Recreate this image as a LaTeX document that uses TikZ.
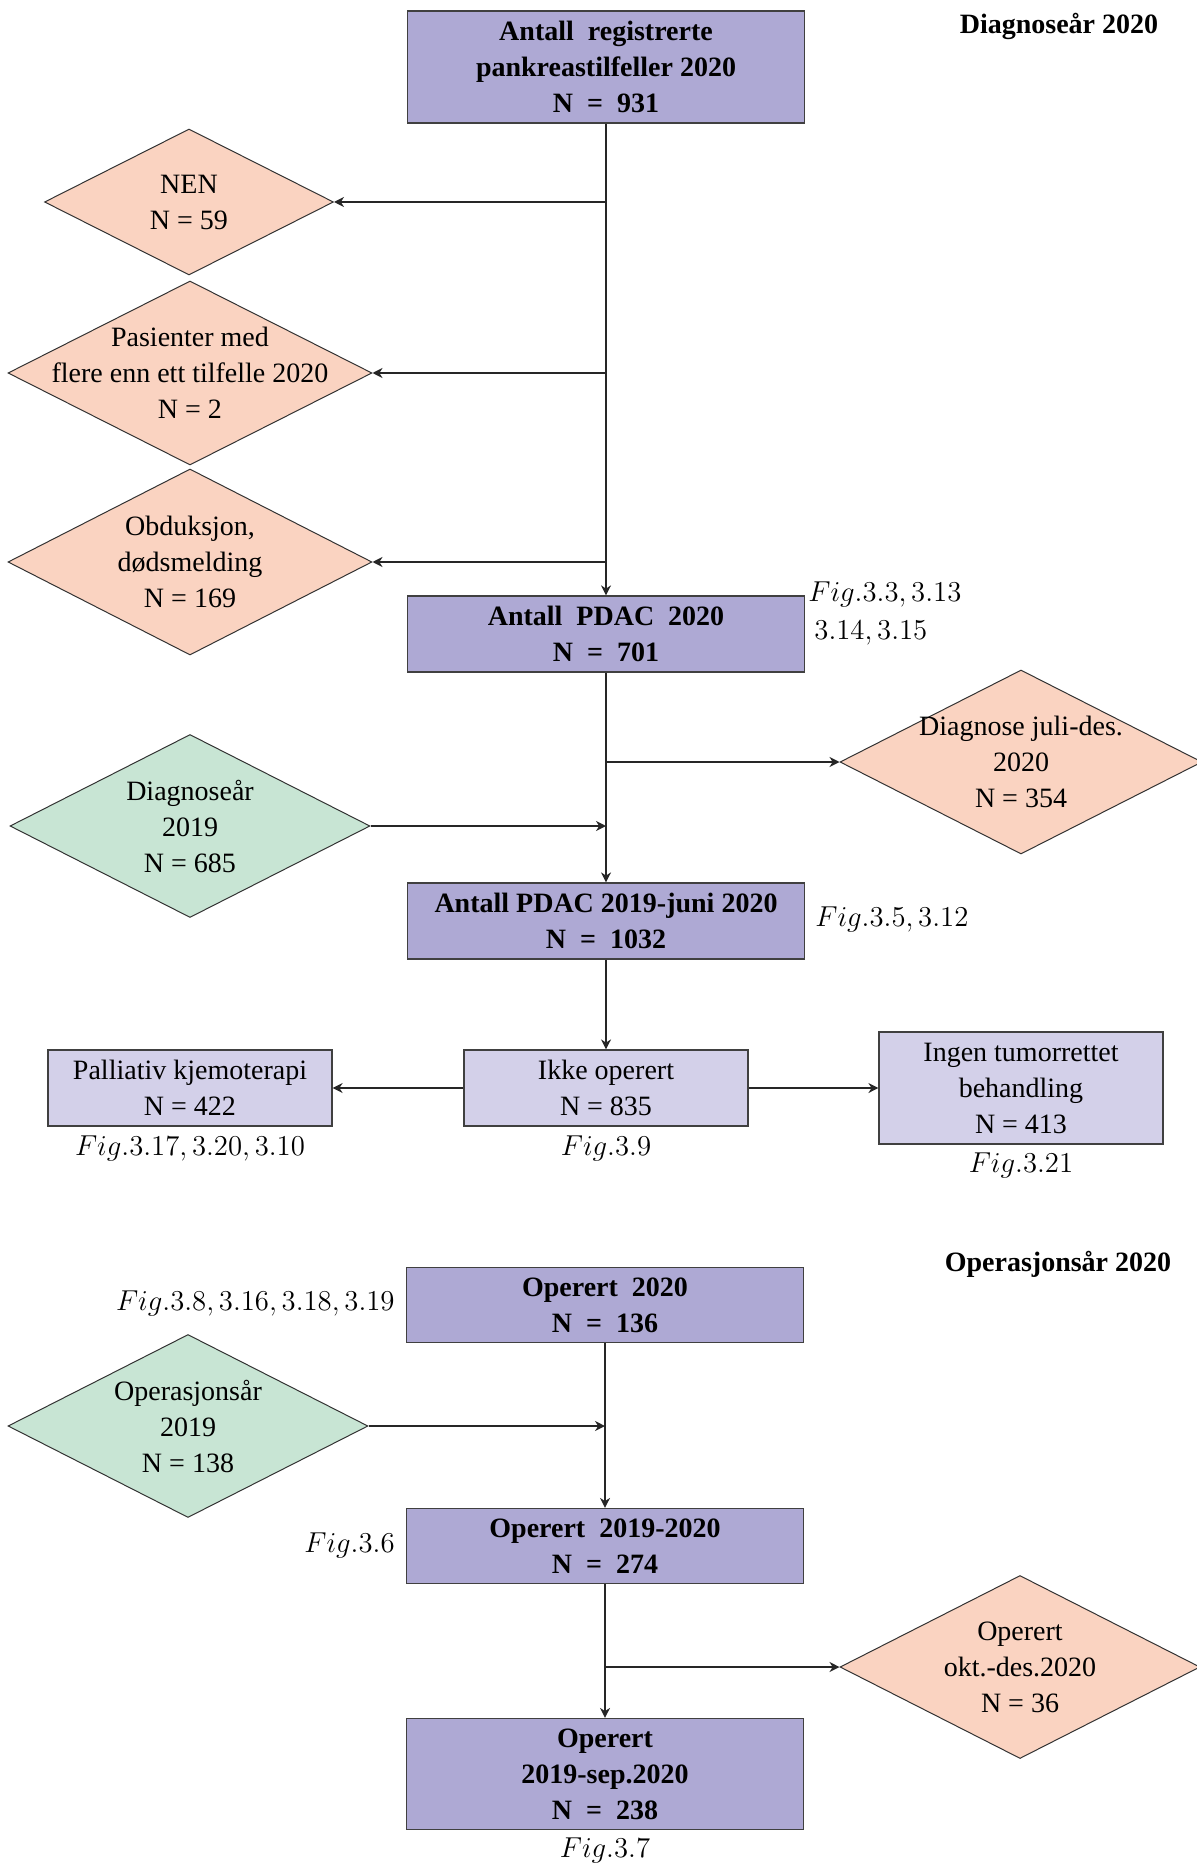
\documentclass[tikz,border=0pt]{standalone}
\usepackage{fontspec}
\setmainfont{Liberation Serif}
\usetikzlibrary{shapes.geometric,calc,arrows.meta}
\definecolor{boxdark}{RGB}{174,169,212}
\definecolor{boxlight}{RGB}{211,208,233}
\definecolor{salmon}{RGB}{250,211,193}
\definecolor{mint}{RGB}{200,229,212}
\begin{document}
\begin{tikzpicture}[x=0.5pt,y=-0.5pt,
  txt/.style={font=\fontsize{14}{18}\selectfont, align=center, inner sep=0pt},
  btxt/.style={font=\fontsize{14}{18}\selectfont\bfseries, align=center},
  bx/.style={draw=black!75, line width=0.6pt, fill=boxdark, minimum width=198.5pt, inner sep=0pt, btxt},
  lbx/.style={draw=black!75, line width=0.6pt, fill=boxlight, minimum width=142pt, inner sep=0pt, txt},
  dia/.style={diamond, draw=black!80, line width=0.5pt, inner sep=0pt},
  figl/.style={font=\fontsize{14.5}{19}\selectfont, inner sep=0pt, align=left},
  arr/.style={-{Stealth[length=5pt,width=5pt,inset=1.6pt]}, line width=0.8pt, draw=black!85}
]
\useasboundingbox (0,0) rectangle (1196,1866);

% headers
\node[btxt, inner sep=0pt] (hdiag) at (1059,26) {Diagnoseår 2020};
\node[btxt, inner sep=0pt] (hop) at (1058,1264) {Operasjonsår 2020};

% upper part
\node[bx, minimum height=56pt] (top) at (606,67) {Antall\ \ registrerte\\pankreastilfeller\ 2020\\N\ \ =\ \ 931};
\node[dia, fill=salmon, minimum width=144.5pt, minimum height=73pt,
      label={[txt]center:NEN\\N = 59}] (nen) at (189,202) {};
\node[dia, fill=salmon, minimum width=182pt, minimum height=92pt,
      label={[txt]center:Pasienter med\\flere enn ett tilfelle 2020\\N = 2}] (pas) at (190,373) {};
\node[dia, fill=salmon, minimum width=182pt, minimum height=93pt,
      label={[txt]center:Obduksjon,\\dødsmelding\\N = 169}] (obd) at (190,562) {};
\node[bx, minimum height=38pt] (pdac) at (606,634) {Antall\ \ PDAC\ \ 2020\\N\ \ =\ \ 701};
\node[figl, anchor=west] (fig1) at (808,613) {$Fig.3.3, 3.13$\\\hspace*{3pt}$3.14, 3.15$};
\node[dia, fill=salmon, minimum width=181pt, minimum height=92pt,
      label={[txt]center:Diagnose juli-des.\\2020\\N = 354}] (jul) at (1021,762) {};
\node[dia, fill=mint, minimum width=180pt, minimum height=91.5pt,
      label={[txt]center:Diagnoseår\\2019\\N = 685}] (d19) at (190,826) {};
\node[bx, minimum height=38pt] (pdacj) at (606,921) {Antall PDAC 2019-juni 2020\\N\ \ =\ \ 1032};
\node[figl, anchor=west] (fig2) at (815,919) {$Fig.3.5, 3.12$};

\node[lbx, minimum height=38pt] (ikke) at (606,1088) {Ikke operert\\N = 835};
\node[lbx, minimum height=38pt] (pal) at (190,1088) {Palliativ kjemoterapi\\N = 422};
\node[lbx, minimum height=56pt] (ingen) at (1021,1088) {Ingen tumorrettet\\behandling\\N = 413};
\node[figl] (figikke) at (606,1148) {$Fig.3.9$};
\node[figl] (figpal) at (190,1148) {$Fig.3.17, 3.20, 3.10$};
\node[figl] (figingen) at (1021,1165) {$Fig.3.21$};

% lower part
\node[bx, minimum height=37.5pt] (op20) at (605,1305) {Operert\ \ 2020\\N\ \ =\ \ 136};
\node[figl, anchor=east] (figop20) at (395,1303) {$Fig.3.8, 3.16, 3.18, 3.19$};
\node[dia, fill=mint, minimum width=180pt, minimum height=91.5pt,
      label={[txt]center:Operasjonsår\\2019\\N = 138}] (o19) at (188,1426) {};
\node[bx, minimum height=37.5pt] (op1920) at (605,1546) {Operert\ \ 2019-2020\\N\ \ =\ \ 274};
\node[figl, anchor=east] (figop1920) at (395,1545) {$Fig.3.6$};
\node[dia, fill=salmon, minimum width=180pt, minimum height=91.5pt,
      label={[txt]center:Operert\\okt.-des.2020\\N = 36}] (okt) at (1020,1667) {};
\node[bx, minimum height=55.5pt] (opsep) at (605,1774) {Operert\\2019-sep.2020\\N\ \ =\ \ 238};
\node[figl] (figsep) at (605,1850) {$Fig.3.7$};

% connectors
\draw[arr] (top.south) -- (pdac.north);
\draw[arr] (top.south |- nen.east) -- (nen.east);
\draw[arr] (top.south |- pas.east) -- (pas.east);
\draw[arr] (top.south |- obd.east) -- (obd.east);
\draw[arr] (pdac.south) -- (pdacj.north);
\draw[arr] (pdac.south |- jul.west) -- (jul.west);
\draw[arr] (d19.east) -- (d19.east -| pdac.south);
\draw[arr] (pdacj.south) -- (ikke.north);
\draw[arr] (ikke.west) -- (pal.east);
\draw[arr] (ikke.east) -- (ingen.west);
\draw[arr] (op20.south) -- (op1920.north);
\draw[arr] (o19.east) -- (o19.east -| op20.south);
\draw[arr] (op1920.south) -- (opsep.north);
\draw[arr] (op1920.south |- okt.west) -- (okt.west);
\end{tikzpicture}
\end{document}
